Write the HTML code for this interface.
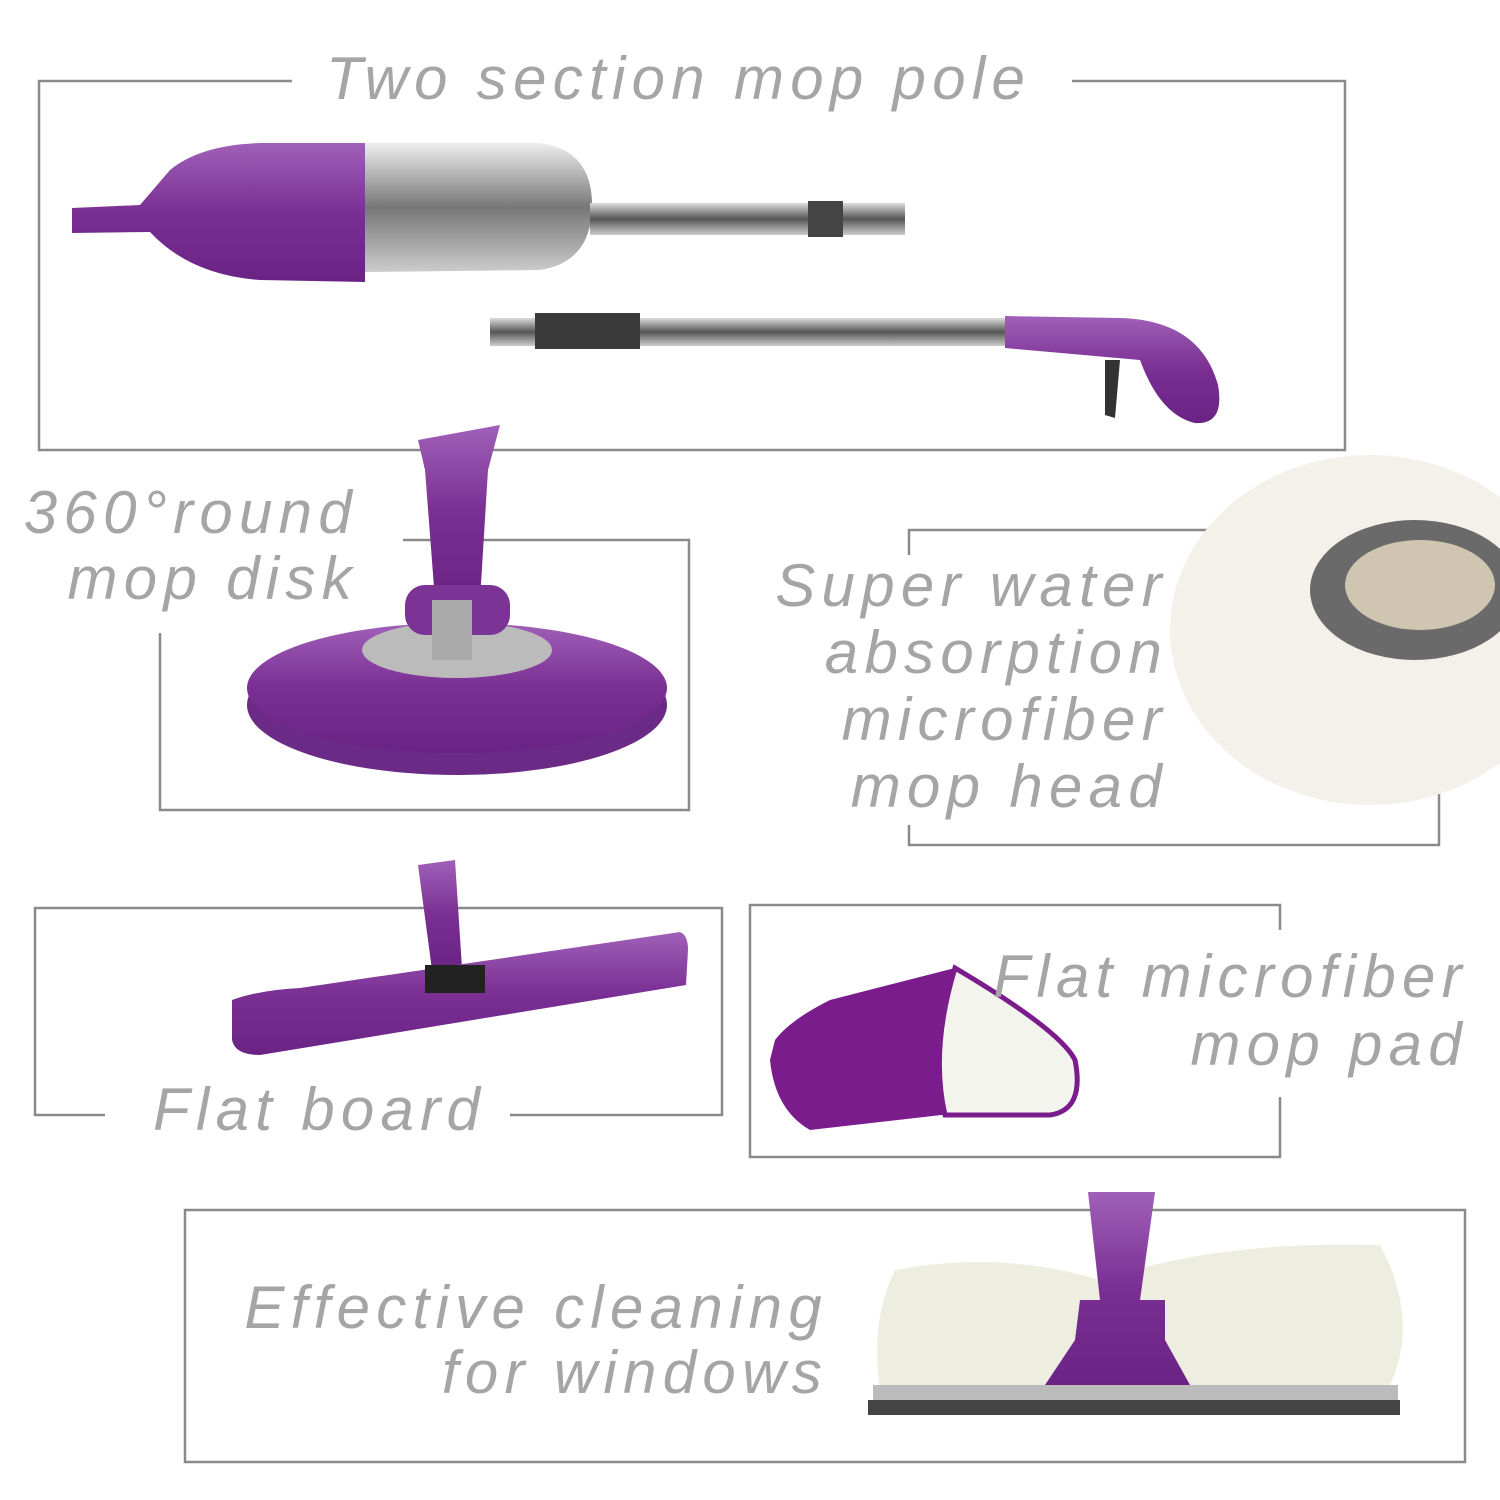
<!DOCTYPE html>
<html><head><meta charset="utf-8"><style>
body{margin:0;width:1500px;height:1500px;background:#fff;position:relative;overflow:hidden;font-family:"Liberation Sans",sans-serif}
.t{position:absolute;color:#a5a5a5;font-style:italic;font-size:60px;letter-spacing:6.3px;line-height:66px;white-space:nowrap}
.r{text-align:right}
svg{position:absolute;left:0;top:0}
</style></head><body>
<svg width="1500" height="1500" viewBox="0 0 1500 1500">
<defs>
<linearGradient id="pu" x1="0" y1="0" x2="0" y2="1"><stop offset="0" stop-color="#a060b8"/><stop offset="0.5" stop-color="#7a2f93"/><stop offset="1" stop-color="#6a2384"/></linearGradient>
<linearGradient id="st" x1="0" y1="0" x2="0" y2="1"><stop offset="0" stop-color="#ddd"/><stop offset="0.5" stop-color="#555"/><stop offset="1" stop-color="#ccc"/></linearGradient>
<linearGradient id="gl" x1="0" y1="0" x2="0" y2="1"><stop offset="0" stop-color="#eee"/><stop offset="0.5" stop-color="#777"/><stop offset="1" stop-color="#ccc"/></linearGradient>
</defs>
<g fill="none" stroke="#8a8a8a" stroke-width="2.5">
<polyline points="292,81 39,81 39,450 1345,450 1345,81 1072,81"/>
<polyline points="403,540 689,540 689,810 160,810 160,633"/>
<polyline points="1215,530 909,530 909,555"/>
<polyline points="909,825 909,845 1439,845 1439,785"/>
<polyline points="105,1115 35,1115 35,908 722,908 722,1115 510,1115"/>
<polyline points="1280,930 1280,905 750,905 750,1157 1280,1157 1280,1097"/>
<rect x="185" y="1210" width="1280" height="252"/>
</g>
<path d="M72,208 L140,205 L170,170 Q200,145 260,143 L365,143 L365,282 L260,280 Q190,275 150,232 L72,233 Z" fill="url(#pu)"/>
<path d="M365,143 L540,143 Q592,150 592,205 Q592,262 540,270 L365,272 Z" fill="url(#gl)"/>
<rect x="590" y="203" width="315" height="32" fill="url(#st)"/>
<rect x="808" y="201" width="35" height="36" fill="#444"/>
<rect x="490" y="318" width="520" height="28" fill="url(#st)"/>
<rect x="535" y="313" width="105" height="36" fill="#3a3a3a"/>
<path d="M1005,316 L1120,318 Q1200,320 1218,385 Q1225,425 1195,423 Q1160,415 1140,360 L1005,348 Z" fill="url(#pu)"/>
<path d="M1105,360 L1120,360 L1115,418 L1105,415 Z" fill="#333"/>
<ellipse cx="457" cy="705" rx="210" ry="70" fill="#6a2a86"/>
<ellipse cx="457" cy="688" rx="210" ry="65" fill="url(#pu)"/>
<ellipse cx="457" cy="650" rx="95" ry="28" fill="#bbb"/>
<path d="M418,440 L500,425 L488,470 L480,600 L435,600 L425,470 Z" fill="url(#pu)"/>
<rect x="405" y="585" width="105" height="50" rx="20" fill="#7b3395"/>
<rect x="432" y="600" width="40" height="60" fill="#aaa"/>
<ellipse cx="1370" cy="630" rx="200" ry="175" fill="#f4f1ea"/>
<ellipse cx="1415" cy="590" rx="105" ry="70" fill="#6a6a6a"/>
<ellipse cx="1420" cy="585" rx="75" ry="45" fill="#cfc5b0"/>
<path d="M418,865 L455,860 L462,968 L432,970 Z" fill="url(#pu)"/>
<path d="M232,1000 Q260,990 300,988 L680,932 Q688,935 688,950 L686,985 L260,1055 Q235,1055 232,1040 Z" fill="url(#pu)"/>
<rect x="425" y="965" width="60" height="28" fill="#222"/>
<path d="M775,1040 Q790,1020 830,1000 L955,968 L985,1110 L810,1130 Q775,1110 770,1060 Z" fill="#7a1c8c"/>
<path d="M955,968 Q1060,1030 1075,1060 Q1085,1110 1050,1115 L945,1115 Q930,1050 955,968 Z" fill="#f4f4ee" stroke="#7a1c8c" stroke-width="5"/>
<path d="M895,1270 Q1000,1250 1100,1280 Q1220,1240 1380,1245 Q1420,1320 1390,1385 L880,1390 Q870,1320 895,1270 Z" fill="#eeeee0"/>
<path d="M1088,1192 L1155,1192 L1140,1300 L1165,1300 L1165,1340 L1190,1385 L1045,1385 L1075,1340 L1080,1300 L1100,1300 Z" fill="url(#pu)"/>
<rect x="873" y="1385" width="525" height="30" fill="#bbb"/>
<rect x="868" y="1400" width="532" height="15" fill="#444"/>
</svg>
<div class="t" style="left:326px;top:46px">Two section mop pole</div>
<div class="t r" style="left:0;width:358px;top:480px">360°round<br>mop disk</div>
<div class="t r" style="left:0;width:1168px;top:552px;line-height:67px">Super water<br>absorption<br>microfiber<br>mop head</div>
<div class="t" style="left:153px;top:1077px">Flat board</div>
<div class="t r" style="left:0;width:1468px;top:943px;line-height:68px">Flat microfiber<br>mop pad</div>
<div class="t r" style="left:0;width:828px;top:1275px;line-height:65px">Effective cleaning<br>for windows</div>
</body></html>
